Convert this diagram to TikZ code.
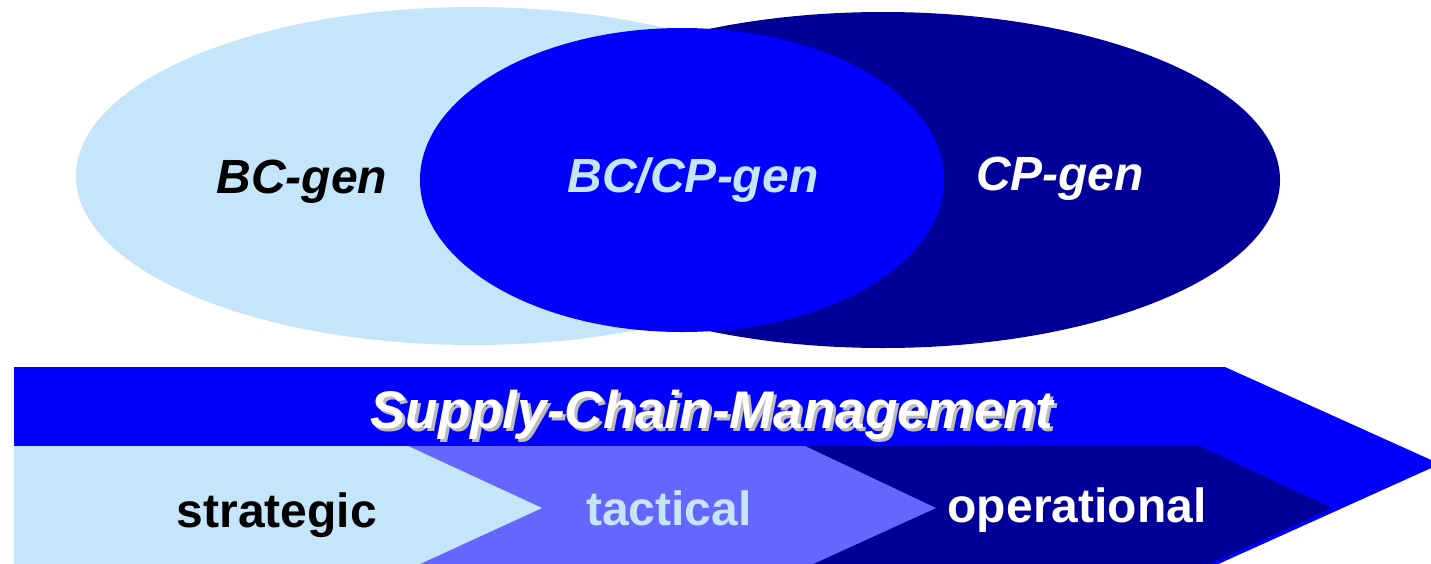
\documentclass[tikz,border=0pt]{standalone}
\usepackage{fontspec}
\setmainfont{Liberation Sans}

\definecolor{skyblue}{HTML}{C5E6FA}
\definecolor{brightblue}{HTML}{0000FF}
\definecolor{navyblue}{HTML}{000099}
\definecolor{midblue}{HTML}{6666FF}
\definecolor{shadowgray}{HTML}{BBBBBB}

\newcommand{\shadowtext}[1]{\rlap{\hspace{3pt}\raisebox{-3pt}{\textcolor{shadowgray}{#1}}}#1}

\begin{document}

\begin{tikzpicture}[x = 1pt, y = -1pt,
	label/.style = {anchor = base, inner sep = 0pt, font = \fontsize{48}{48}\selectfont\bfseries},
	genlabel/.style = {label, font = \fontsize{48}{48}\selectfont\bfseries\itshape}]

\useasboundingbox (0, 0) rectangle (1431, 563);
\clip (0, 0) rectangle (1431, 563);

	\begin{scope}
	
		\fill [skyblue] (473, 176) ellipse [x radius = 397, y radius = 169];
		\fill [navyblue] (883, 180) ellipse [x radius = 397, y radius = 168];
		\fill [brightblue] (682, 180) ellipse [x radius = 262, y radius = 152];
	
	\end{scope}
	
	\node [genlabel, text = black] (bcgen) at (302, 193) {BC-gen};
	\node [genlabel, text = skyblue] (bccpgen) at (693, 192) {BC/CP-gen};
	\node [genlabel, text = white] (cpgen) at (1060, 190) {CP-gen};

	\begin{scope}
	
		\fill [brightblue] (14, 367) -- (1225, 367) -- (1440, 464) -- (1194, 575) -- (14, 575) -- cycle;
		\fill [navyblue] (700, 446) -- (1200, 446) -- (1332, 508) -- (1186, 575) -- (700, 575) -- cycle;
		\fill [midblue] (400, 446) -- (805, 446) -- (936, 508) -- (789, 575) -- (400, 575) -- cycle;
		\fill [skyblue] (14, 446) -- (408, 446) -- (542, 508) -- (396, 575) -- (14, 575) -- cycle;
	
	\end{scope}
	
	\node [label, text = white, font = \fontsize{53}{53}\selectfont\bfseries\itshape] (scm) at (712, 428) {\shadowtext{Supply-Chain-Management}};

	\node [label, text = black] (strategic) at (277, 527) {strategic};
	\node [label, text = skyblue] (tactical) at (669, 525) {tactical};
	\node [label, text = white] (operational) at (1077, 522) {operational};

\end{tikzpicture}

\end{document}
